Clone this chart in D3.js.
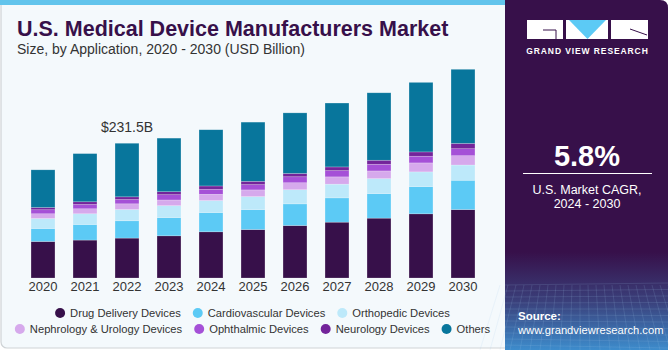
<!DOCTYPE html>
<html>
<head>
<meta charset="utf-8">
<script src="https://cdn.jsdelivr.net/npm/d3@7"></script>
<style>
  body { margin: 0; background: #fff; }
  text { font-family: "Liberation Sans", Arial, sans-serif; }
</style>
</head>
<body>
<div id="chart"></div>
<script>
var w = 670;
var h = 350;

var years = ["2020", "2021", "2022", "2023", "2024", "2025", "2026", "2027", "2028", "2029", "2030"];
var series = ["Drug Delivery Devices", "Cardiovascular Devices", "Orthopedic Devices",
    "Nephrology & Urology Devices", "Ophthalmic Devices", "Neurology Devices", "Others"];
var colors = ["#37104a", "#5ccaf5", "#bde9fa", "#d6a9ec", "#a550d7", "#73249a", "#08769c"];

// USD billion
var drug   = [62.8, 65.2, 68.6, 72.5, 79.4, 83.3, 90.2, 96.0, 102.9, 110.3, 117.6];
var cardio = [22.3, 26.8, 29.7, 31.4, 33.1, 34.3, 37.2, 41.7, 42.2, 46.8, 50.4];
var ortho  = [17.2, 18.4, 19.4, 20.4, 20.6, 22.3, 24.3, 23.6, 25.7, 25.3, 26.2];
var nephro = [8.1, 8.6, 9.8, 9.8, 10.8, 11.5, 12.0, 12.5, 13.2, 15.4, 16.0];
var ophth  = [6.9, 7.4, 7.4, 9.1, 8.6, 9.1, 10.3, 10.8, 11.5, 11.5, 12.0];
var neuro  = [3.9, 4.6, 4.6, 5.1, 5.7, 5.7, 5.7, 6.3, 6.9, 7.4, 9.1];
var others = [64.7, 82.8, 92.1, 92.1, 96.6, 101.7, 104.1, 109.8, 115.9, 119.5, 127.4];

var labelYear = "2022";
var labelText = "$231.5B";

var values = [drug, cardio, ortho, nephro, ophth, neuro, others];
var table = years.map(function(y, i) {
    var row = { year: y };
    series.forEach(function(s, j) { row[s] = values[j][i]; });
    return row;
});

var svg = d3.select("#chart")
    .append("svg")
    .attr("width", w)
    .attr("height", h);

// card background
svg.append("rect")
    .attr("x", 1).attr("y", -6)
    .attr("width", 520).attr("height", 354)
    .attr("rx", 6)
    .style("fill", "#f4f9fc")
    .style("stroke", "#cfd3d6")
    .style("stroke-width", 1.2);

svg.append("rect")
    .attr("x", 0).attr("y", 0)
    .attr("width", 506).attr("height", 5)
    .style("fill", "#62c4ec");

// right panel
var defs = svg.append("defs");
var grad = defs.append("linearGradient")
    .attr("id", "pgrad").attr("x1", 0).attr("y1", 0).attr("x2", 0).attr("y2", 1);
grad.append("stop").attr("offset", "0").attr("stop-color", "#37104a");
grad.append("stop").attr("offset", "0.72").attr("stop-color", "#37104a");
grad.append("stop").attr("offset", "0.86").attr("stop-color", "#3a3f7a");
grad.append("stop").attr("offset", "1").attr("stop-color", "#3d8ccc");

svg.append("path")
    .attr("d", "M505,0 H660 Q668,0 668,8 V350 H505 Z")
    .style("fill", "url(#pgrad)");

// faint grid in the bottom of the panel
var grid = svg.append("g").style("stroke", "#9fc6ea").style("stroke-opacity", 0.25).style("stroke-width", 0.6);
d3.range(0, 12).forEach(function(i) {
    grid.append("line")
        .attr("x1", 505).attr("x2", 668)
        .attr("y1", 285 + i * 6).attr("y2", 283 + i * 6.5);
});
d3.range(0, 22).forEach(function(i) {
    grid.append("line")
        .attr("x1", 500 + i * 8).attr("x2", 480 + i * 10)
        .attr("y1", 285).attr("y2", 350);
});

// logo
var logo = svg.append("g");
logo.append("rect").attr("x", 527).attr("y", 20).attr("width", 36).attr("height", 19).style("fill", "#fff");
logo.append("path").attr("d", "M543,30 H556 V39").style("fill", "none").style("stroke", "#37104a").style("stroke-width", 1);
logo.append("rect").attr("x", 566).attr("y", 20).attr("width", 42).attr("height", 19).style("fill", "#fff");
logo.append("path").attr("d", "M569,20 H606 L587.5,39 Z").style("fill", "#5ccaf5");
logo.append("rect").attr("x", 611).attr("y", 20).attr("width", 37).attr("height", 19).style("fill", "#fff");
logo.append("path").attr("d", "M630,29 L647,35").style("stroke", "#37104a").style("stroke-width", 1);
svg.append("text")
    .attr("x", 587.5).attr("y", 54)
    .attr("text-anchor", "middle")
    .style("font-size", "8.5px").style("font-weight", "bold")
    .style("letter-spacing", "0.9px")
    .style("fill", "#fff")
    .text("GRAND VIEW RESEARCH");

svg.append("text")
    .attr("x", 587).attr("y", 166)
    .attr("text-anchor", "middle")
    .style("font-size", "29px").style("font-weight", "bold")
    .style("fill", "#fff")
    .text("5.8%");
svg.append("line")
    .attr("x1", 523).attr("x2", 652).attr("y1", 173.5).attr("y2", 173.5)
    .style("stroke", "#fff").style("stroke-width", 1);
svg.append("text")
    .attr("x", 587).attr("y", 194)
    .attr("text-anchor", "middle")
    .style("font-size", "12.5px").style("fill", "#fff")
    .text("U.S. Market CAGR,");
svg.append("text")
    .attr("x", 587).attr("y", 208)
    .attr("text-anchor", "middle")
    .style("font-size", "12.5px").style("fill", "#fff")
    .text("2024 - 2030");
svg.append("text")
    .attr("x", 518).attr("y", 320)
    .style("font-size", "11.5px").style("font-weight", "bold").style("fill", "#fff")
    .text("Source:");
svg.append("text")
    .attr("x", 518).attr("y", 334)
    .style("font-size", "11.2px").style("fill", "#fff")
    .text("www.grandviewresearch.com");

// titles
svg.append("text")
    .attr("x", 17).attr("y", 36)
    .style("font-size", "21.5px").style("font-weight", "bold")
    .style("fill", "#37104a")
    .text("U.S. Medical Device Manufacturers Market");
svg.append("text")
    .attr("x", 17).attr("y", 54)
    .style("font-size", "14px")
    .style("fill", "#333")
    .text("Size, by Application, 2020 - 2030 (USD Billion)");

// scales
var x = d3.scaleBand()
    .domain(years)
    .range([22, 484])
    .paddingInner(0.43)
    .paddingOuter(0.215);

var y = d3.scaleLinear()
    .domain([0, 231.5])
    .range([278, 143.3]);

var stack = d3.stack().keys(series);
var stacked = stack(table);

svg.append("g")
    .selectAll("g")
    .data(stacked)
    .enter()
    .append("g")
    .style("fill", function(d, i) { return colors[i]; })
    .selectAll("rect")
    .data(function(d) { return d; })
    .enter()
    .append("rect")
    .attr("x", function(d) { return x(d.data.year); })
    .attr("y", function(d) { return y(d[1]); })
    .attr("width", x.bandwidth())
    .attr("height", function(d) { return y(d[0]) - y(d[1]); })
    .style("stroke", "rgba(255,255,255,0.35)")
    .style("stroke-width", 0.6);

// value label
var labelRow = table.filter(function(d) { return d.year === labelYear; })[0];
var labelTotal = d3.sum(series, function(s) { return labelRow[s]; });
svg.append("text")
    .attr("x", x(labelYear) + x.bandwidth() / 2)
    .attr("y", y(labelTotal) - 11)
    .attr("text-anchor", "middle")
    .style("font-size", "14px")
    .style("fill", "#333")
    .text(labelText);

// x axis
var xAxis = svg.append("g")
    .attr("transform", "translate(0,278)")
    .call(d3.axisBottom(x).tickSize(0).tickPadding(4));
xAxis.select(".domain").remove();
xAxis.selectAll("text")
    .style("font-family", "'Liberation Sans', Arial, sans-serif")
    .style("font-size", "13px")
    .style("fill", "#333");

// legend, two centered rows
var rows = [[0, 1, 2], [3, 4, 5, 6]];
var rowY = [313, 329];
rows.forEach(function(idx, r) {
    var g = svg.append("g");
    var cx = 0;
    idx.forEach(function(i) {
        var item = g.append("g").attr("transform", "translate(" + cx + ",0)");
        item.append("circle").attr("cx", 5).attr("cy", 0).attr("r", 5).style("fill", colors[i]);
        var t = item.append("text")
            .attr("x", 15).attr("y", 4.2)
            .style("font-size", "11.2px")
            .style("fill", "#333")
            .text(series[i]);
        cx += 15 + t.node().getComputedTextLength() + 12;
    });
    var total = cx - 12;
    g.attr("transform", "translate(" + (252.5 - total / 2) + "," + rowY[r] + ")");
});
</script>
</body>
</html>
